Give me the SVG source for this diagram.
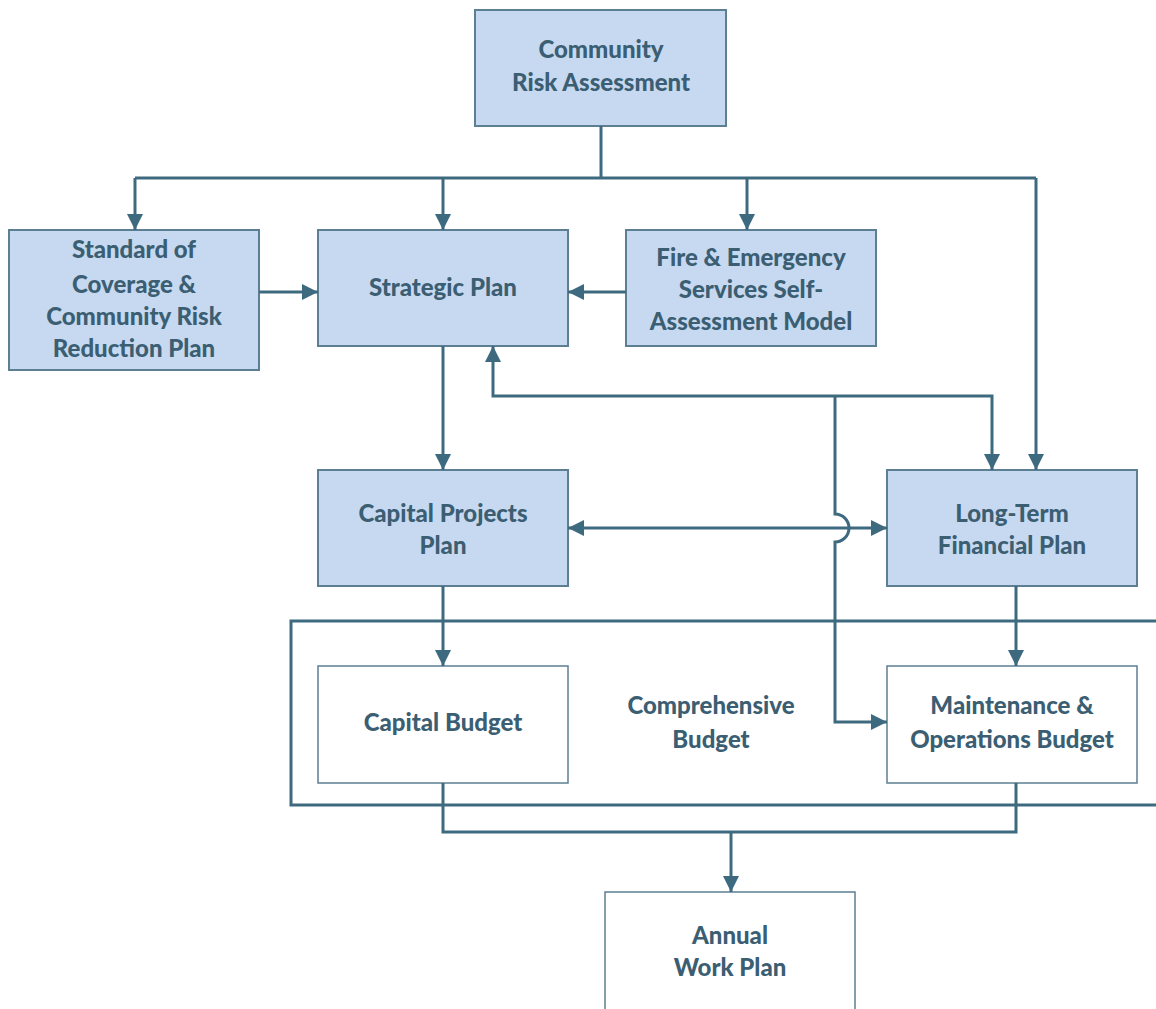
<svg xmlns="http://www.w3.org/2000/svg" width="1156" height="1009" viewBox="0 0 1156 1009">
<style>
.blue{fill:#c6d9f0;stroke:#5d7f94;stroke-width:2}
.white{fill:#ffffff;stroke:#5d7f94;stroke-width:1.5}
.t{font-family:Lato,"Liberation Sans",sans-serif;font-weight:900;font-size:24px;fill:#3b5e73;text-anchor:middle}
.c{fill:none;stroke:#3e6a80;stroke-width:3}
</style>
<defs>
<marker id="ah" markerUnits="userSpaceOnUse" markerWidth="18" markerHeight="18" viewBox="0 0 18 18" refX="16" refY="9" orient="auto-start-reverse">
<path d="M0,1 L16,9 L0,17 z" fill="#3e6a80"/>
</marker>
</defs>
<rect width="1156" height="1009" fill="#ffffff"/>
<g id="comprehensive">
<rect x="291" y="621" width="880" height="184" fill="none" stroke="#3e6a80" stroke-width="3"/>
<text class="t" x="711" y="714">Comprehensive</text>
<text class="t" x="711" y="748">Budget</text>
</g>
<g id="cra">
<rect class="blue" x="475" y="10" width="251" height="116"/>
<text class="t" x="601" y="58">Community</text>
<text class="t" x="601" y="91">Risk Assessment</text>
</g>
<g id="soc">
<rect class="blue" x="9" y="230" width="250" height="140"/>
<text class="t" x="134" y="258">Standard of</text>
<text class="t" x="134" y="293">Coverage &amp;</text>
<text class="t" x="134" y="325">Community Risk</text>
<text class="t" x="134" y="357">Reduction Plan</text>
</g>
<g id="strategic">
<rect class="blue" x="318" y="230" width="250" height="116"/>
<text class="t" x="443" y="296">Strategic Plan</text>
</g>
<g id="fesam">
<rect class="blue" x="626" y="230" width="250" height="116"/>
<text class="t" x="751" y="266">Fire &amp; Emergency</text>
<text class="t" x="751" y="298">Services Self-</text>
<text class="t" x="751" y="330">Assessment Model</text>
</g>
<g id="cpp">
<rect class="blue" x="318" y="470" width="250" height="116"/>
<text class="t" x="443" y="522">Capital Projects</text>
<text class="t" x="443" y="554">Plan</text>
</g>
<g id="ltfp">
<rect class="blue" x="887" y="470" width="250" height="116"/>
<text class="t" x="1012" y="522">Long-Term</text>
<text class="t" x="1012" y="554">Financial Plan</text>
</g>
<g id="capbudget">
<rect class="white" x="318" y="666" width="250" height="117"/>
<text class="t" x="443" y="731">Capital Budget</text>
</g>
<g id="mobudget">
<rect class="white" x="887" y="666" width="250" height="117"/>
<text class="t" x="1012" y="714">Maintenance &amp;</text>
<text class="t" x="1012" y="748">Operations Budget</text>
</g>
<g id="awp">
<rect class="white" x="605" y="892" width="250" height="130"/>
<text class="t" x="730" y="944">Annual</text>
<text class="t" x="730" y="976">Work Plan</text>
</g>
<g id="connectors">
<path class="c" d="M601,126 V178"/>
<path class="c" d="M135,178 H1036"/>
<path class="c" d="M135,178 V230" marker-end="url(#ah)"/>
<path class="c" d="M443,178 V230" marker-end="url(#ah)"/>
<path class="c" d="M747,178 V230" marker-end="url(#ah)"/>
<path class="c" d="M1036,178 V470" marker-end="url(#ah)"/>
<path class="c" d="M259,292 H318" marker-end="url(#ah)"/>
<path class="c" d="M626,292 H568" marker-end="url(#ah)"/>
<path class="c" d="M443,346 V470" marker-end="url(#ah)"/>
<path class="c" d="M493,346 V396 H992 V470" marker-start="url(#ah)" marker-end="url(#ah)"/>
<path class="c" d="M568,528 H887" marker-start="url(#ah)" marker-end="url(#ah)"/>
<path class="c" d="M835,396 V514 A14,14 0 0 1 835,542 V722 H887" marker-end="url(#ah)"/>
<path class="c" d="M443,586 V666" marker-end="url(#ah)"/>
<path class="c" d="M1016,586 V666" marker-end="url(#ah)"/>
<path class="c" d="M443,783 V832 H1016 V783"/>
<path class="c" d="M731,832 V892" marker-end="url(#ah)"/>
</g>
</svg>
